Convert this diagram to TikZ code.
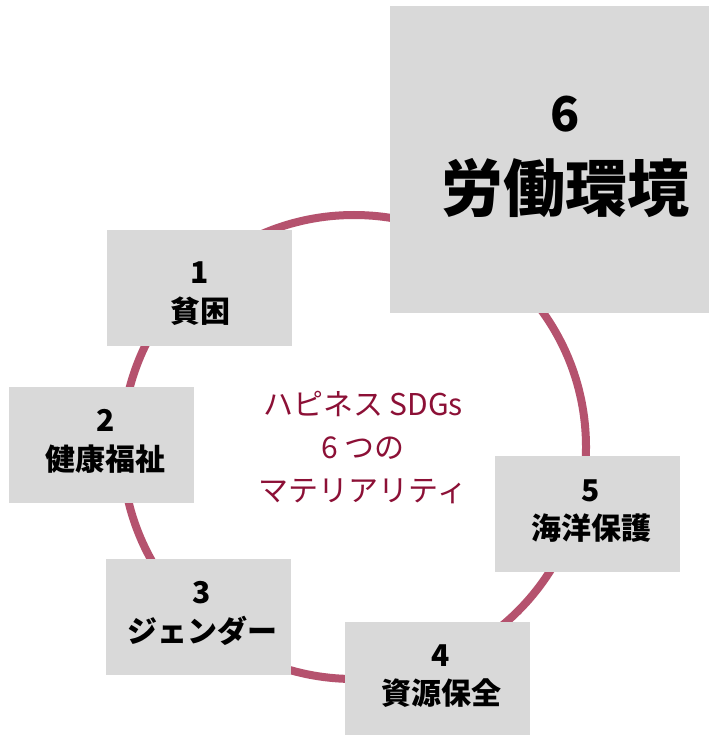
\documentclass[tikz,border=0pt]{standalone}
\usepackage{fontspec}
\newfontfamily\jp{Noto Sans CJK JP}
\definecolor{boxgray}{HTML}{D9D9D9}
\definecolor{ringcol}{HTML}{B5526E}
\definecolor{midred}{HTML}{8C1036}
\begin{document}
\begin{tikzpicture}[x=1pt,y=-1pt,
  ring/.style={draw=ringcol, line width=8pt},
  gbox/.style={fill=boxgray, draw=none, rectangle, inner sep=0pt},
  digit/.style={font=\jp\bfseries\fontsize{30}{36}\selectfont, inner sep=0pt, text=black},
  label/.style={font=\jp\bfseries\fontsize{30}{36}\selectfont, inner sep=0pt, text=black},
  bigdigit/.style={font=\jp\bfseries\fontsize{48}{56}\selectfont, inner sep=0pt, text=black},
  biglabel/.style={font=\jp\bfseries\fontsize{62}{70}\selectfont, inner sep=0pt, text=black},
  center/.style={font=\jp\fontsize{30}{43}\selectfont, align=center, text=midred, inner sep=0pt}]
\useasboundingbox (0,0) rectangle (709,735);
\fill[white] (0,0) rectangle (709,735);
\draw[ring] (354,447) circle (232);
% boxes
\node[gbox, minimum width=319pt, minimum height=307pt] (b6) at (549.5,159.5) {};
\node[gbox, minimum width=185pt, minimum height=116pt] (b1) at (199.5,288) {};
\node[gbox, minimum width=185pt, minimum height=116pt] (b2) at (101.5,445) {};
\node[gbox, minimum width=185pt, minimum height=116pt] (b3) at (198.5,617) {};
\node[gbox, minimum width=185pt, minimum height=113pt] (b4) at (437.5,678.5) {};
\node[gbox, minimum width=185pt, minimum height=116pt] (b5) at (587.5,514) {};
% texts
\node[bigdigit] (d6) at (565,114) {6};
\node[biglabel] (l6) at (565,188) {労働環境};
\node[digit] (d1) at (200,273) {1};
\node[label] (l1) at (200,311) {貧困};
\node[digit] (d2) at (105.5,420) {2};
\node[label] (l2) at (105.5,459) {健康福祉};
\node[digit] (d3) at (202,592.5) {3};
\node[label] (l3) at (202,631) {ジェンダー};
\node[digit] (d4) at (441,656) {4};
\node[label] (l4) at (441,693) {資源保全};
\node[digit] (d5) at (591,491) {5};
\node[label] (l5) at (591,528) {海洋保護};
\node[center] (mid) at (363,448) {ハピネス SDGs\\6 つの\\マテリアリティ};
\end{tikzpicture}
\end{document}
